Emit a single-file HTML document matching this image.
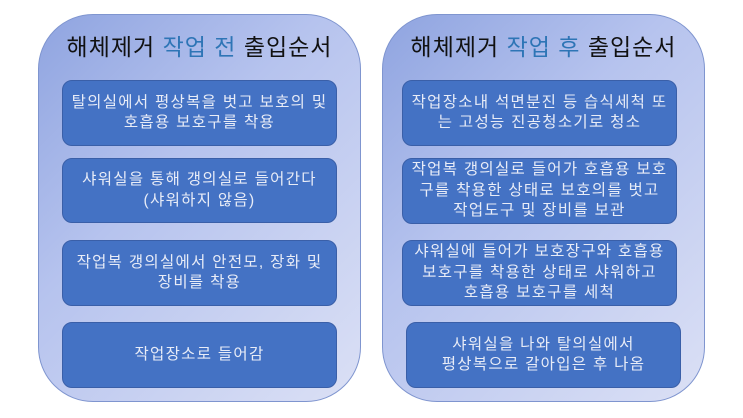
<!DOCTYPE html>
<html><head><meta charset="utf-8"><style>
html,body{margin:0;padding:0;background:#fff;}
body{width:743px;height:418px;position:relative;overflow:hidden;font-family:"Liberation Sans","Noto Sans CJK KR",sans-serif;}
.outer{position:absolute;top:14px;height:388px;width:323px;border-radius:55px;border:1px solid #7f95cf;box-sizing:border-box;background:linear-gradient(135deg,#8fa4e0 0%,#b6c3ee 40%,#dbe0f5 100%);}
.title{position:absolute;top:32px;width:323px;text-align:center;font-size:23px;letter-spacing:1px;color:#111;line-height:30px;white-space:nowrap;}
.title span{color:#2e75b6;}
.b{position:absolute;background:#4472c4;border:1px solid #3a5fa8;border-radius:10px;box-sizing:border-box;color:#e8ecf7;font-size:15.5px;letter-spacing:1.3px;line-height:20.5px;display:flex;align-items:center;justify-content:center;text-align:center;padding:0 4px;white-space:nowrap;}
</style></head><body>
<div class="outer" style="left:38px"></div>
<div class="outer" style="left:382px"></div>
<div class="title" style="left:38px">해체제거 <span>작업 전</span> 출입순서</div>
<div class="title" style="left:382px">해체제거 <span>작업 후</span> 출입순서</div>

<div class="b" style="left:62px;top:80px;width:275px;height:66px">탈의실에서 평상복을 벗고 보호의 및<br>호흡용 보호구를 착용</div>
<div class="b" style="left:62px;top:158px;width:275px;height:65px">샤워실을 통해 갱의실로 들어간다<br>(샤워하지 않음)</div>
<div class="b" style="left:62px;top:240px;width:275px;height:66px">작업복 갱의실에서 안전모, 장화 및<br>장비를 착용</div>
<div class="b" style="left:62px;top:322px;width:275px;height:66px">작업장소로 들어감</div>

<div class="b" style="left:402px;top:80px;width:275px;height:66px">작업장소내 석면분진 등 습식세척 또<br>는 고성능 진공청소기로 청소</div>
<div class="b" style="left:402px;top:158px;width:275px;height:66px">작업복 갱의실로 들어가 호흡용 보호<br>구를 착용한 상태로 보호의를 벗고<br>작업도구 및 장비를 보관</div>
<div class="b" style="left:402px;top:240px;width:275px;height:66px">샤워실에 들어가 보호장구와 호흡용<br>보호구를 착용한 상태로 샤워하고<br>호흡용 보호구를 세척</div>
<div class="b" style="left:406px;top:322px;width:275px;height:66px">샤워실을 나와 탈의실에서<br>평상복으로 갈아입은 후 나옴</div>
</body></html>
